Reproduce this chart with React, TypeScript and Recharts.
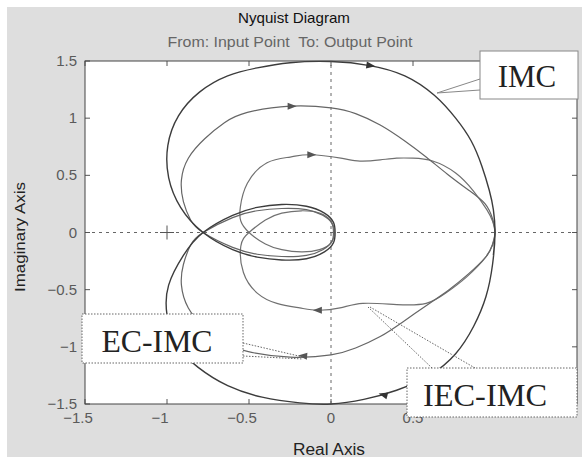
import React from 'react';
import {
  ComposedChart,
  Line,
  XAxis,
  YAxis,
  CartesianGrid,
  ReferenceLine,
  ReferenceDot,
} from 'recharts';

// axis ticks (real and imaginary)
const TICKS = [-1.5, -1, -0.5, 0, 0.5, 1, 1.5];

// curves as [real, imag], walked from (1,0) over the top, through the inner loop, back along the bottom
// (first and last points overlap a little so the closed curve has no corner at (1,0))
const IMC: [number, number][] = [
  [0.99, -0.2], [1.0, 0], [0.99, 0.2], [0.965, 0.37], [0.92, 0.58], [0.855, 0.8], [0.76, 1.0],
  [0.63, 1.2], [0.45, 1.37], [0.237, 1.46], [0.0, 1.495], [-0.249, 1.485], [-0.45, 1.44], [-0.63, 1.37],
  [-0.8, 1.23], [-0.93, 1.02], [-0.995, 0.76], [-0.99, 0.48], [-0.917, 0.22], [-0.78, 0],
  [-0.6, -0.15], [-0.45, -0.215], [-0.3, -0.24], [-0.15, -0.23], [-0.04, -0.17], [0.015, -0.09], [0.025, 0],
  [0.015, 0.09], [-0.04, 0.17], [-0.15, 0.23], [-0.3, 0.245], [-0.45, 0.22], [-0.6, 0.15], [-0.78, 0],
  [-0.9, -0.2], [-0.99, -0.46], [-1.0, -0.72], [-0.94, -0.98], [-0.81, -1.18], [-0.63, -1.34],
  [-0.42, -1.44], [-0.19, -1.49], [0.0, -1.5], [0.2, -1.46], [0.4, -1.38], [0.6, -1.25], [0.76, -1.06],
  [0.87, -0.82], [0.945, -0.56], [0.985, -0.28], [1.0, 0], [0.99, 0.2],
];

const EC_IMC: [number, number][] = [
  [0.985, -0.12], [1.0, 0], [0.985, 0.12], [0.94, 0.25], [0.84, 0.37], [0.71, 0.51], [0.58, 0.66], [0.45, 0.8],
  [0.3, 0.94], [0.15, 1.04], [0.0, 1.09], [-0.249, 1.105], [-0.51, 1.05], [-0.65, 0.96],
  [-0.77, 0.82], [-0.87, 0.65], [-0.912, 0.46], [-0.9, 0.27], [-0.856, 0.11], [-0.78, 0],
  [-0.6, -0.13], [-0.45, -0.19], [-0.3, -0.21], [-0.15, -0.2], [-0.05, -0.15], [0.005, -0.08], [0.015, 0],
  [0.005, 0.08], [-0.05, 0.15], [-0.15, 0.2], [-0.3, 0.21], [-0.45, 0.19], [-0.6, 0.13], [-0.78, 0],
  [-0.856, -0.11], [-0.9, -0.28], [-0.912, -0.46], [-0.87, -0.66], [-0.77, -0.83], [-0.65, -0.96],
  [-0.51, -1.04], [-0.249, -1.09], [0.0, -1.07], [0.15, -1.01], [0.3, -0.91], [0.44, -0.78],
  [0.6, -0.62], [0.72, -0.5], [0.84, -0.36], [0.94, -0.22], [0.985, -0.11], [1.0, 0], [0.985, 0.12],
];

const IEC_IMC: [number, number][] = [
  [0.985, -0.1], [1.0, 0], [0.985, 0.1], [0.95, 0.2], [0.87, 0.36], [0.76, 0.52], [0.62, 0.625], [0.5, 0.65],
  [0.4, 0.65], [0.3, 0.635], [0.176, 0.625], [0.06, 0.65], [-0.127, 0.68], [-0.249, 0.66],
  [-0.39, 0.61], [-0.51, 0.43], [-0.553, 0.22], [-0.55, 0.1], [-0.5, 0],
  [-0.4, -0.1], [-0.3, -0.15], [-0.18, -0.17], [-0.07, -0.15], [0.0, -0.09], [0.02, 0],
  [0.0, 0.1], [-0.07, 0.17], [-0.18, 0.19], [-0.3, 0.17], [-0.4, 0.11], [-0.5, 0],
  [-0.55, -0.12], [-0.534, -0.35], [-0.45, -0.53], [-0.33, -0.62], [-0.19, -0.66], [-0.08, -0.68],
  [0.055, -0.66], [0.194, -0.62], [0.4, -0.63], [0.58, -0.62], [0.7, -0.53], [0.826, -0.39],
  [0.947, -0.21], [0.985, -0.1], [1.0, 0], [0.985, 0.1],
];

// direction arrows on each curve: [real, imag, screen angle in degrees]
const ARROWS: [number, number, number][] = [
  [0.24, 1.46, 8], [0.32, -1.42, 195],
  [-0.24, 1.105, 0], [-0.17, -1.08, 185],
  [-0.12, 0.68, 0], [-0.08, -0.68, 180],
];

const toRows = (pts: [number, number][]) => pts.map(([x, y]) => ({ x, y }));

const PLOT = { left: 85, right: 577, top: 61, bottom: 404 };
const SANS = '"Liberation Sans", Arial, sans-serif';
const SERIF = '"Liberation Serif", "Times New Roman", serif';

const fmt = (v: number) => (v < 0 ? '\u2212' + Math.abs(v) : String(v));

const XTick = (props: any) => {
  const { x, payload } = props;
  const v = payload.value;
  return (
    <g>
      <line x1={x} x2={x} y1={PLOT.bottom} y2={PLOT.bottom - 5} stroke="#555" />
      <line x1={x} x2={x} y1={PLOT.top} y2={PLOT.top + 5} stroke="#555" />
      {/* labels at 1 and 1.5 sit under the IEC-IMC callout */}
      {v < 1 && (
        <text x={v < 0 ? x - 7 : x} y={423} textAnchor="middle" fontSize={15} fontFamily={SANS} fill="#5a5a5a">
          {fmt(v)}
        </text>
      )}
    </g>
  );
};

const YTick = (props: any) => {
  const { y, payload } = props;
  return (
    <g>
      <line x1={PLOT.left} x2={PLOT.left + 5} y1={y} y2={y} stroke="#555" />
      <line x1={PLOT.right} x2={PLOT.right - 5} y1={y} y2={y} stroke="#555" />
      <text x={77} y={y + 5} textAnchor="end" fontSize={15} fontFamily={SANS} fill="#5a5a5a">
        {fmt(payload.value)}
      </text>
    </g>
  );
};

const arrowShape = (angle: number, fill: string) => (p: any) => (
  <polygon
    points={`${p.cx + 5},${p.cy} ${p.cx - 4},${p.cy - 3.5} ${p.cx - 4},${p.cy + 3.5}`}
    transform={`rotate(${angle} ${p.cx} ${p.cy})`}
    fill={fill}
  />
);

const plusShape = (p: any) => (
  <g stroke="#555" strokeWidth={1}>
    <line x1={p.cx - 7} x2={p.cx + 7} y1={p.cy} y2={p.cy} />
    <line x1={p.cx} x2={p.cx} y1={p.cy - 7} y2={p.cy + 7} />
  </g>
);

export default function App() {
  return (
    <div style={{ position: 'absolute', left: 0, top: 0, width: 582, height: 457 }}>
      <div style={{ position: 'absolute', left: 7, top: 7, width: 575, height: 450, background: '#dedede' }} />
      <div style={{ position: 'absolute', left: 0, top: 0 }}>
        <ComposedChart width={582} height={457} margin={{ top: 61, right: 5, bottom: 0, left: 0 }}>
          <CartesianGrid horizontal={false} vertical={false} fill="#ffffff" />
          <XAxis
            type="number"
            dataKey="x"
            domain={[-1.5, 1.5]}
            ticks={TICKS}
            height={53}
            axisLine={false}
            tickLine={false}
            tick={<XTick />}
            allowDuplicatedCategory={false}
          />
          <YAxis
            type="number"
            dataKey="y"
            domain={[-1.5, 1.5]}
            ticks={TICKS}
            width={85}
            axisLine={false}
            tickLine={false}
            tick={<YTick />}
          />
          <ReferenceLine x={0} stroke="#666" strokeDasharray="3 4" />
          <ReferenceLine y={0} stroke="#666" strokeDasharray="3 4" />
          <Line data={toRows(IEC_IMC)} dataKey="y" type="natural" stroke="#707070" strokeWidth={1.2} dot={false} activeDot={false} isAnimationActive={false} />
          <Line data={toRows(EC_IMC)} dataKey="y" type="natural" stroke="#666666" strokeWidth={1.2} dot={false} activeDot={false} isAnimationActive={false} />
          <Line data={toRows(IMC)} dataKey="y" type="natural" stroke="#3c3c3c" strokeWidth={1.4} dot={false} activeDot={false} isAnimationActive={false} />
          <ReferenceDot x={-1} y={0} r={7} shape={plusShape} />
          {ARROWS.map(([x, y, a], i) => (
            <ReferenceDot key={i} x={x} y={y} r={5} shape={arrowShape(a, i < 2 ? '#333' : '#555')} />
          ))}
        </ComposedChart>
      </div>
      <svg width={582} height={457} style={{ position: 'absolute', left: 0, top: 0, pointerEvents: 'none' }}>
        <rect x={PLOT.left} y={PLOT.top} width={PLOT.right - PLOT.left} height={PLOT.bottom - PLOT.top} fill="none" stroke="#444" />
        <text x={294} y={23} textAnchor="middle" fontSize={15} fontFamily={SANS} fill="#111" textLength={112} lengthAdjust="spacingAndGlyphs">
          Nyquist Diagram
        </text>
        <text x={290} y={47} textAnchor="middle" fontSize={14} fontFamily={SANS} fill="#666" textLength={245} lengthAdjust="spacingAndGlyphs">
          {'From: Input Point\u00a0 To: Output Point'}
        </text>
        <text x={329} y={455} textAnchor="middle" fontSize={16} fontFamily={SANS} fill="#222" textLength={72} lengthAdjust="spacingAndGlyphs">
          Real Axis
        </text>
        <text x={25} y={237} textAnchor="middle" fontSize={15} fontFamily={SANS} fill="#222" transform="rotate(-90 25 237)" textLength={110} lengthAdjust="spacingAndGlyphs">
          Imaginary Axis
        </text>

        {/* IMC callout */}
        <polyline points="480,79 437,93 480,90" fill="#fff" stroke="#888" />
        <rect x={480} y={51} width={98} height={48} fill="#fff" stroke="#888" />
        <text x={527} y={87} textAnchor="middle" fontSize={31} fontFamily={SERIF} fill="#222">IMC</text>

        {/* EC-IMC callout */}
        <rect x={82} y={314} width={161} height={49} fill="#fff" stroke="#666" strokeDasharray="1.5 1.5" />
        <line x1={243} y1={343} x2={303} y2={357} stroke="#666" strokeDasharray="1.5 1.5" />
        <line x1={243} y1={356} x2={303} y2={359} stroke="#666" strokeDasharray="1.5 1.5" />
        <text x={157} y={352} textAnchor="middle" fontSize={31} fontFamily={SERIF} fill="#222" textLength={111} lengthAdjust="spacingAndGlyphs">EC-IMC</text>

        {/* IEC-IMC callout */}
        <rect x={407} y={368} width={170} height={49} fill="#fff" stroke="#666" strokeDasharray="1.5 1.5" />
        <line x1={432} y1={368} x2={368} y2={307} stroke="#666" strokeDasharray="1.5 1.5" />
        <line x1={475} y1={368} x2={370} y2={307} stroke="#666" strokeDasharray="1.5 1.5" />
        <text x={485} y={406} textAnchor="middle" fontSize={31} fontFamily={SERIF} fill="#222" textLength={124} lengthAdjust="spacingAndGlyphs">IEC-IMC</text>
      </svg>
    </div>
  );
}
